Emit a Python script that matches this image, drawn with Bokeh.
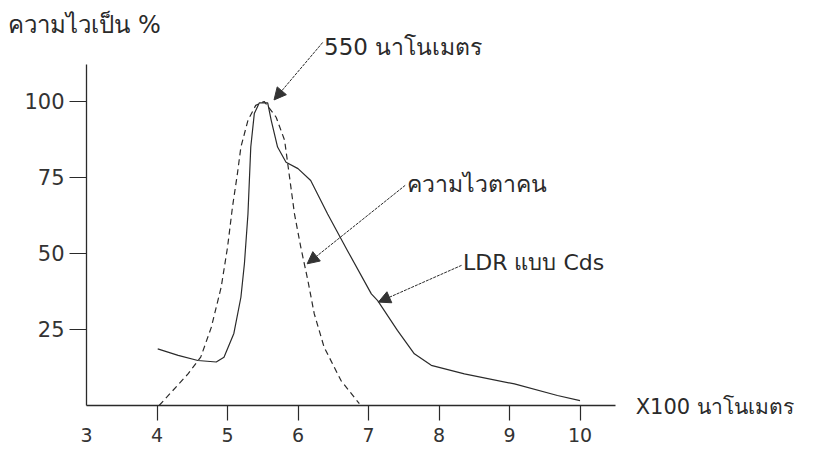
from bokeh.plotting import figure
from bokeh.models import Range1d, FixedTicker, Label, Arrow, NormalHead, LinearAxis
from bokeh.embed import file_html
from bokeh.resources import INLINE

# wavelength in units of x100 nm
ldr_x = [4.01, 4.3, 4.58, 4.84, 4.95, 5.09, 5.19, 5.24, 5.29, 5.33, 5.38, 5.45, 5.57,
         5.62, 5.71, 5.83, 6.0, 6.18, 6.42, 6.7, 7.04, 7.13, 7.41, 7.65, 7.89, 8.36,
         9.07, 9.68, 10.0]
ldr_y = [18.6, 16.5, 14.8, 14.3, 15.9, 23.7, 35.6, 46.7, 63, 85, 96, 99.5, 99.5,
         93.8, 85, 80, 77.9, 74, 63, 51, 36.7, 34.5, 24.7, 17, 13.2, 10.4,
         7.1, 3.3, 1.6]

eye_x = [4.03, 4.44, 4.62, 4.77, 4.91, 5.0, 5.07, 5.14, 5.19, 5.29, 5.40, 5.52,
         5.69, 5.81, 5.88, 5.95, 6.04, 6.14, 6.23, 6.37, 6.61, 6.87]
eye_y = [0, 10.4, 15.9, 25.7, 38.9, 52, 65.2, 76.2, 85, 93.8, 98.7, 100,
         94.8, 87.2, 75.1, 63, 52, 41.1, 30.2, 19.2, 8.2, 0.6]

x_ticks = [4, 5, 6, 7, 8, 9, 10]
x_origin_tick = [3]
y_ticks = [25, 50, 75, 100]

y_title = "ความไวเป็น %"
x_title = "X100 นาโนเมตร"
ann_peak = "550 นาโนเมตร"
ann_eye = "ความไวตาคน"
ann_ldr = "LDR แบบ Cds"

FONT = "DejaVu Sans"
INK = "#2a2a2a"

p = figure(width=803, height=451, output_backend="svg", toolbar_location=None,
           x_range=Range1d(1.78, 13.17), y_range=Range1d(-15.13, 133.2),
           min_border=0)
p.outline_line_color = None
p.grid.visible = False
p.background_fill_color = "white"
p.border_fill_color = "white"

# origin label "3" without a tick mark
ax0 = LinearAxis(fixed_location=0, ticker=FixedTicker(ticks=x_origin_tick),
                 axis_line_color=None, major_tick_line_color=None,
                 minor_tick_line_color=None, major_tick_in=0, major_tick_out=15,
                 major_label_standoff=8, major_label_text_font=FONT,
                 major_label_text_font_size="19px", major_label_text_color="#333333")
p.add_layout(ax0, "below")

for ax in (p.xaxis[0], p.yaxis[0]):
    ax.axis_line_color = INK
    ax.axis_line_width = 1.3
    ax.major_tick_line_color = INK
    ax.major_tick_line_width = 1.2
    ax.major_tick_in = 0
    ax.minor_tick_line_color = None
    ax.major_label_text_font = FONT
    ax.major_label_text_color = "#333333"

xa = p.xaxis[0]
xa.fixed_location = 0
xa.ticker = FixedTicker(ticks=x_ticks)
xa.bounds = (3, 10.5)
xa.major_tick_out = 15
xa.major_label_standoff = 8
xa.major_label_text_font_size = "19px"

p.yaxis.fixed_location = 3
p.yaxis.ticker = FixedTicker(ticks=y_ticks)
p.yaxis.bounds = (0, 112)
p.yaxis.major_tick_out = 17
p.yaxis.major_label_standoff = 5
p.yaxis.major_label_text_font_size = "21px"

p.line(ldr_x, ldr_y, line_color=INK, line_width=1.2)
p.line(eye_x, eye_y, line_color=INK, line_width=1.2, line_dash="6 4")

def lab(x, y, t, size="21px", align="left"):
    p.add_layout(Label(x=x, y=y, text=t, text_font=FONT, text_font_size=size,
                       text_color=INK, text_align=align, text_baseline="middle"))

lab(1.89, 125, y_title, "24px")
lab(10.79, -0.5, x_title, "21px")
lab(6.37, 117.8, ann_peak, "23px")
lab(7.55, 73.0, ann_eye, "23px")
lab(8.34, 47.0, ann_ldr, "22px")

def arrow(x0, y0, x1, y1):
    p.add_layout(Arrow(x_start=x0, y_start=y0, x_end=x1, y_end=y1,
                       line_color=INK, line_width=1, line_dash="3 1",
                       end=NormalHead(size=12, fill_color="#333333", line_color="#333333")))

arrow(6.35, 119.4, 5.66, 100.5)
arrow(7.52, 72.4, 6.13, 46.6)
arrow(8.32, 46.1, 7.14, 34.0)

open("out.html", "w").write(file_html(p, INLINE))
